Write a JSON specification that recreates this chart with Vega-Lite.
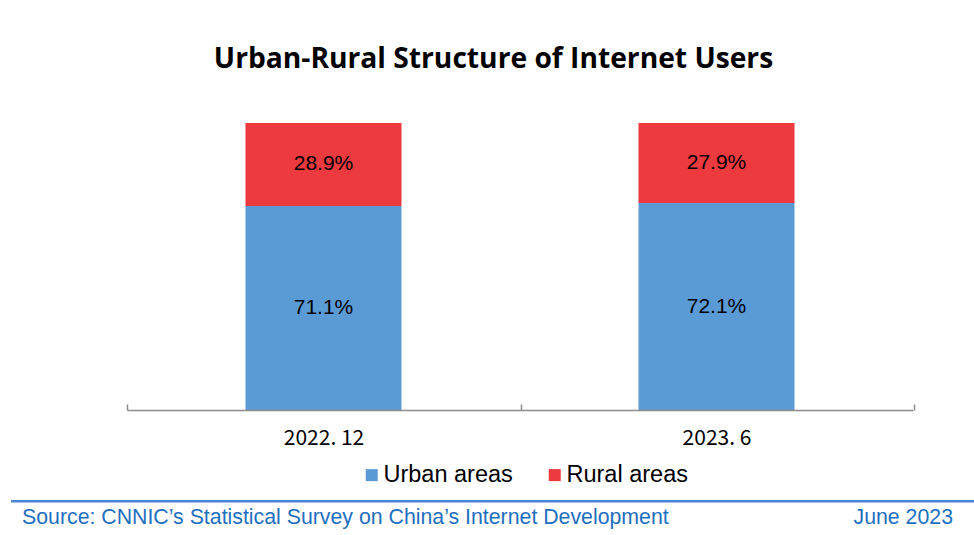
{
  "$schema": "https://vega.github.io/schema/vega-lite/v6.json",
  "padding": {"top": 44, "left": 11, "right": 0, "bottom": 0},
  "background": "#ffffff",
  "title": {
    "text": "Urban-Rural Structure of Internet Users",
    "font": "Open Sans",
    "fontSize": 28.2,
    "fontWeight": "bold",
    "color": "#000000",
    "anchor": "middle",
    "offset": 49
  },
  "spacing": 52,
  "vconcat": [
    {
      "width": 963,
      "height": 287,
      "data": {
        "values": [
          {"period": "2022. 12", "area": "Urban areas", "share": 0.711},
          {"period": "2022. 12", "area": "Rural areas", "share": 0.289},
          {"period": "2023. 6", "area": "Urban areas", "share": 0.721},
          {"period": "2023. 6", "area": "Rural areas", "share": 0.279}
        ]
      },
      "encoding": {
        "x": {
          "field": "period",
          "type": "nominal",
          "sort": ["2022. 12", "2023. 6"],
          "scale": {"range": [115, 901], "paddingInner": 0.603, "paddingOuter": 0.3015},
          "axis": {
            "title": null,
            "labelAngle": 0,
            "labelFont": "Noto Sans CJK SC",
            "labelFontSize": 21,
            "labelColor": "#000000",
            "labelPadding": 23,
            "domainColor": "#8c8c8c",
            "domainWidth": 1.5,
            "tickColor": "#8c8c8c",
            "tickWidth": 1.5,
            "tickSize": -6,
            "tickExtra": true,
            "bandPosition": 2.5224,
            "tickOffset": -118.5,
            "labelOffset": 118.5,
            "zindex": 1
          }
        },
        "y": {
          "field": "share",
          "type": "quantitative",
          "stack": "zero",
          "scale": {"domain": [0, 1]},
          "axis": null
        },
        "color": {
          "field": "area",
          "type": "nominal",
          "sort": ["Urban areas", "Rural areas"],
          "scale": {"domain": ["Urban areas", "Rural areas"], "range": ["#5B9BD5", "#EC3A3E"]},
          "legend": {
            "title": null,
            "orient": "none",
            "direction": "horizontal",
            "legendX": 348,
            "legendY": 340,
            "symbolType": "square",
            "symbolSize": 144,
            "symbolStrokeWidth": 0,
            "symbolOpacity": 1,
            "labelFont": "Liberation Sans",
            "labelFontSize": 23.5,
            "labelColor": "#000000",
            "labelOffset": 0,
            "columnPadding": 30
          }
        }
      },
      "layer": [
        {"mark": {"type": "bar", "stroke": null}},
        {
          "mark": {"type": "text", "font": "Liberation Sans", "fontSize": 21, "color": "#000000", "baseline": "middle"},
          "encoding": {
            "y": {"field": "share", "type": "quantitative", "stack": "zero", "bandPosition": 0.5},
            "text": {"field": "share", "type": "quantitative", "format": ".1%"},
            "color": {"value": "#000000"}
          }
        }
      ]
    },
    {
      "width": 963,
      "height": 0.5,
      "view": {"stroke": "#4A86D6", "strokeWidth": 2},
      "data": {
        "values": [
          {"kind": "source", "label": "Source: CNNIC’s Statistical Survey on China’s Internet Development"},
          {"kind": "date", "label": "June 2023"}
        ]
      },
      "encoding": {
        "x": {
          "field": "kind",
          "type": "nominal",
          "scale": {"type": "point", "domain": ["source", "date"], "range": [10, 941], "padding": 0},
          "axis": null
        },
        "text": {"field": "label", "type": "nominal"}
      },
      "layer": [
        {
          "transform": [{"filter": "datum.kind == 'source'"}],
          "mark": {"type": "text", "align": "left", "baseline": "middle", "dy": 17, "font": "Liberation Sans", "fontSize": 21.3, "color": "#1F6FBF"}
        },
        {
          "transform": [{"filter": "datum.kind == 'date'"}],
          "mark": {"type": "text", "align": "right", "baseline": "middle", "dy": 17, "font": "Liberation Sans", "fontSize": 21.3, "color": "#1F6FBF"}
        }
      ]
    }
  ],
  "config": {
    "view": {"stroke": null}
  }
}
